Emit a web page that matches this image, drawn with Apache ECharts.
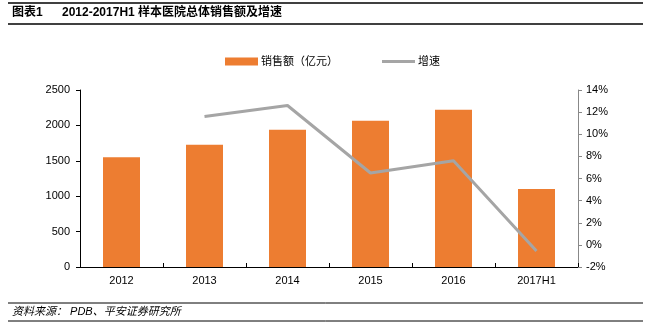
<!DOCTYPE html>
<html><head><meta charset="utf-8">
<script src="https://cdn.jsdelivr.net/npm/echarts@6/dist/echarts.min.js"></script>
<style>html,body{margin:0;padding:0;background:#fff}#c{width:651px;height:324px}</style>
</head><body><div id="c"></div>
<script>
var categories = ['2012','2013','2014','2015','2016','2017H1'];
var sales = [1550, 1725, 1937, 2065, 2221, 1101];
var growth = [null, 11.6, 12.6, 6.5, 7.6, -0.55];
var leftTicks = [0, 500, 1000, 1500, 2000, 2500];
var rightTicks = [-2, 0, 2, 4, 6, 8, 10, 12, 14];

var FONT = '"Liberation Sans", Arial, "Noto Sans CJK SC", sans-serif';
var chart = echarts.init(document.getElementById('c'));
chart.setOption({
  animation: false,
  textStyle: {fontFamily: FONT},
  grid: {left: 80, right: 73, top: 90, bottom: 57, containLabel: false},
  legend: {
    left: 220, top: 51, itemWidth: 33, itemHeight: 8, itemGap: 44,
    textStyle: {fontSize: 11, color: '#000', fontFamily: FONT, padding: [0,0,0,-2]},
    data: [{name: '销售额（亿元）', icon: 'rect'},
           {name: '增速', icon: 'path://M0,0H33V3H0Z', itemStyle: {color: '#A5A5A5', borderWidth: 0}, lineStyle: {width: 0}}]
  },
  xAxis: {
    type: 'category', data: categories,
    axisLine: {lineStyle: {color: '#000', width: 1}},
    axisTick: {show: true, inside: true, length: 4, alignWithLabel: false, lineStyle: {color: '#000'}},
    axisLabel: {fontSize: 11, color: '#000', margin: 8, fontFamily: FONT}
  },
  yAxis: [{
    type: 'value', min: 0, max: 2500, interval: 500,
    axisLine: {show: true, lineStyle: {color: '#000'}},
    axisTick: {show: true, length: 4, lineStyle: {color: '#000'}},
    splitLine: {show: false},
    axisLabel: {fontSize: 11, color: '#000', margin: 10, fontFamily: FONT, formatter: function(v){return String(v);}}
  }, {
    type: 'value', min: -2, max: 14, interval: 2, position: 'right',
    axisLine: {show: true, lineStyle: {color: '#888'}},
    axisTick: {show: true, length: 4, lineStyle: {color: '#888'}},
    splitLine: {show: false},
    axisLabel: {fontSize: 11, color: '#000', margin: 8, formatter: '{value}%', fontFamily: FONT}
  }],
  series: [{
    name: '销售额（亿元）', type: 'bar', data: sales, barWidth: 37,
    itemStyle: {color: '#ED7D31'}
  }, {
    name: '增速', type: 'line', yAxisIndex: 1, data: growth,
    symbol: 'none', lineStyle: {color: '#A5A5A5', width: 3}, itemStyle: {color: '#A5A5A5'}
  }],
  graphic: [
    {type: 'line', shape: {x1: 8, y1: 3, x2: 643, y2: 3}, style: {stroke: '#000', lineWidth: 1.5}},
    {type: 'line', shape: {x1: 8, y1: 24, x2: 643, y2: 24}, style: {stroke: '#000', lineWidth: 1.5}},
    {type: 'text', left: 12, top: 7, style: {text: '图表1', font: 'bold 12px ' + FONT, fill: '#000'}},
    {type: 'text', left: 62, top: 7, style: {text: '2012-2017H1 样本医院总体销售额及增速', font: 'bold 12px ' + FONT, fill: '#000'}},
    {type: 'line', shape: {x1: 8, y1: 303, x2: 643, y2: 303}, style: {stroke: '#000', lineWidth: 1}},
    {type: 'line', shape: {x1: 8, y1: 321, x2: 643, y2: 321}, style: {stroke: '#000', lineWidth: 1}},
    {type: 'text', left: 12, top: 306, style: {text: '资料来源： PDB、平安证券研究所', font: 'italic 11px ' + FONT, fill: '#000'}}
  ]
});
</script></body></html>
